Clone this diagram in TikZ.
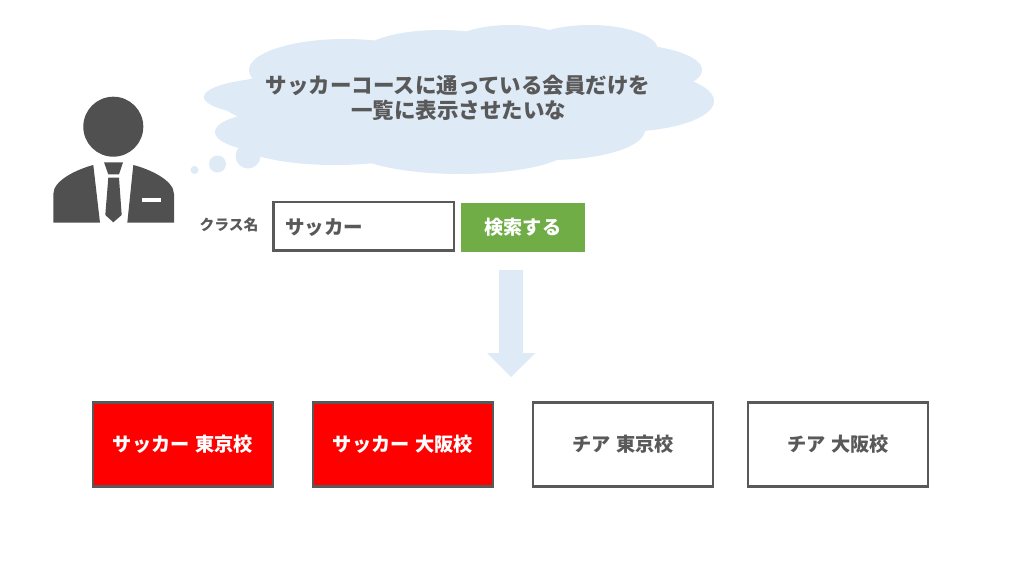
\documentclass[tikz,border=0pt]{standalone}
\usepackage{fontspec}
\setmainfont{Noto Sans CJK JP}
\definecolor{ink}{HTML}{595959}
\definecolor{figure}{HTML}{505050}
\definecolor{pale}{HTML}{DEEAF6}
\definecolor{leaf}{HTML}{70AD47}
\newcommand{\gapp}{\hspace{6pt}}
\tikzset{
  label/.style={inner sep=0pt,text=ink,font=\bfseries\fontsize{#1}{#1}\selectfont},
  card/.style={draw=ink,line width=2.2pt,minimum width=180pt,minimum height=84pt,inner sep=0pt,font=\bfseries\fontsize{19.2}{19.2}\selectfont},
  plaincard/.style={card,fill=white,text=ink},
  redcard/.style={card,fill=red,text=white},
  puff/.style={fill=pale,draw=none}
}
\begin{document}
\begin{tikzpicture}[x=1pt,y=-1pt]
\useasboundingbox (0,0) rectangle (1024,576);
% cloud
\foreach \cx/\cy/\rx/\ry in {345/70/96/31, 440/55/80/25, 510/50/65/25, 590/50/68/25, 620/70/82/26, 620/101/94/31, 550/130/95/30, 460/146/112/28, 335/140/100/25, 290/132/75/22, 290/97/86/20, 420/100/200/40}
  \fill[puff] (\cx,\cy) ellipse [x radius=\rx, y radius=\ry];
\fill[puff] (248,156) circle (12.5);
\fill[puff] (217.5,164) circle (8.5);
\fill[puff] (194.5,170) circle (4);
\node[label=21.5] (line1) at (458,85.5) {サッカーコースに通っている会員だけを};
\node[label=21.5] (line2) at (458.5,110.5) {一覧に表示させたいな};
% person
\fill[figure] (113.3,126.7) circle (30);
\fill[figure] (93.3,165) .. controls (78,169) and (53.3,180) .. (53.3,194) -- (53.3,222.7) -- (100,222.7) -- cycle;
\fill[figure] (133.3,165) .. controls (149,169) and (174,180) .. (174,194) -- (174,222.7) -- (127.3,222.7) -- cycle;
\fill[white] (141.7,197.7) rectangle (160.7,202);
\fill[figure] (104,162.3) -- (123,162.3) -- (119,174.3) -- (108.3,174.3) -- cycle;
\fill[figure] (108.3,177.7) -- (119,177.7) -- (121.7,215) -- (113.3,222.3) -- (105.3,215) -- cycle;
% form
\node[label=14.8] (field) at (229,225) {クラス名};
\node[draw=ink,line width=2.2pt,fill=white,minimum width=180.5pt,minimum height=48.5pt,inner sep=0pt] (input) at (363.8,226.3) {};
\node[label=19.5,anchor=west] (value) at (285,227.5) {サッカー};
\node[fill=leaf,minimum width=124.3pt,minimum height=49pt,inner sep=0pt,text=white,font=\bfseries\fontsize{19.2}{19.2}\selectfont] (search) at (522.9,227.2) {検索する};
% arrow
\fill[pale] (499,270) -- (523,270) -- (523,353) -- (535.5,353) -- (511,377) -- (487,353) -- (499,353) -- cycle;
% result cards
\node[redcard] (c1) at (183,444.5) {サッカー\gapp 東京校};
\node[redcard] (c2) at (403,444.5) {サッカー\gapp 大阪校};
\node[plaincard] (c3) at (623,444.5) {チア\gapp 東京校};
\node[plaincard] (c4) at (838,444.5) {チア\gapp 大阪校};
\end{tikzpicture}
\end{document}
